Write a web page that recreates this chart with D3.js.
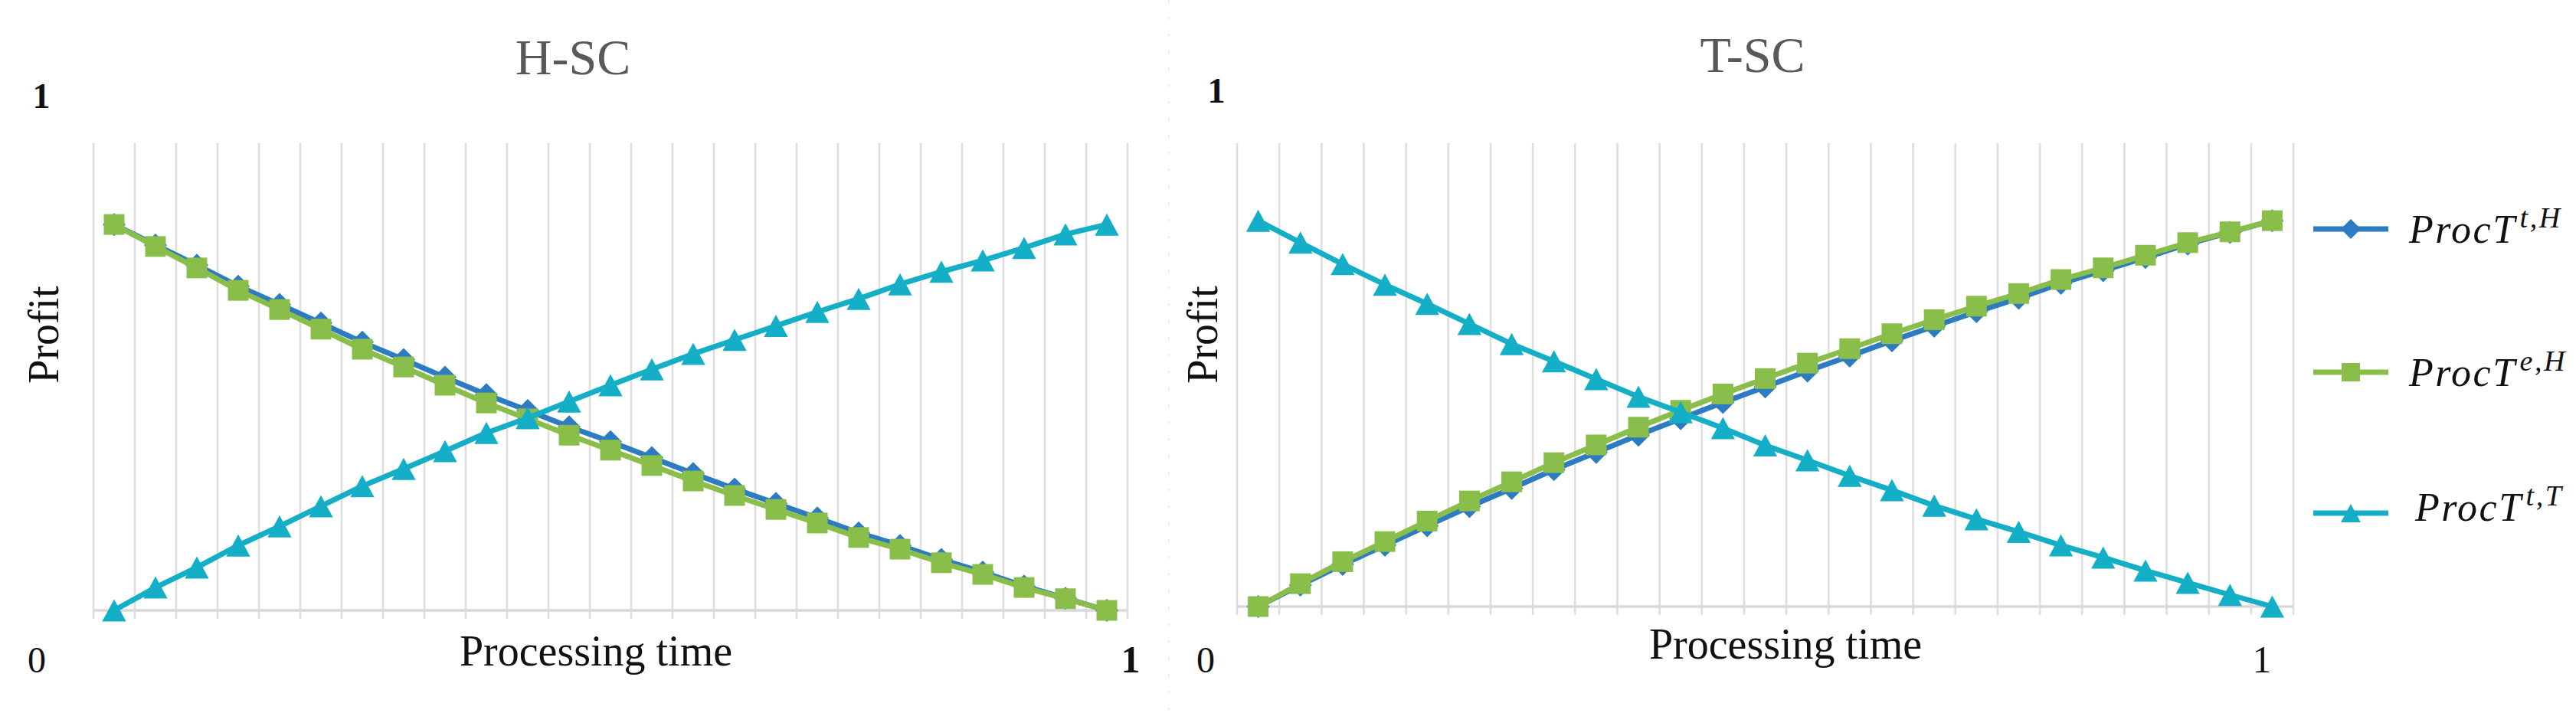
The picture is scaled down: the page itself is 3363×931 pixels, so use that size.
<!DOCTYPE html>
<html>
<head>
<meta charset="utf-8">
<script src="https://cdn.jsdelivr.net/npm/d3@7"></script>
<style>
  html, body { margin: 0; padding: 0; background: #ffffff; }
  svg { display: block; }
</style>
</head>
<body>
<svg id="chart" width="3363" height="931"></svg>
<script>
// ---------------- DATA ----------------
const categories = [1, 2, 3, 4, 5, 6, 7, 8, 9, 10, 11, 12, 13, 14, 15, 16, 17, 18, 19, 20, 21, 22, 23, 24, 25];

// H-SC panel
const hscProcTtH = [0.826, 0.782, 0.739, 0.694, 0.655, 0.615, 0.574, 0.537, 0.499, 0.462, 0.428, 0.393, 0.361, 0.327, 0.293, 0.260, 0.229, 0.198, 0.166, 0.139, 0.109, 0.082, 0.052, 0.026, 0];
const hscProcTeH = [0.826, 0.779, 0.733, 0.685, 0.644, 0.602, 0.559, 0.521, 0.482, 0.444, 0.410, 0.375, 0.343, 0.310, 0.277, 0.246, 0.216, 0.187, 0.156, 0.131, 0.102, 0.077, 0.049, 0.025, 0];
const hscProcTtT = [0, 0.049, 0.092, 0.139, 0.180, 0.223, 0.266, 0.303, 0.341, 0.380, 0.412, 0.447, 0.482, 0.516, 0.549, 0.579, 0.609, 0.639, 0.667, 0.698, 0.725, 0.749, 0.776, 0.805, 0.826];

// T-SC panel
const tscProcTtH = [0, 0.046, 0.090, 0.131, 0.173, 0.214, 0.253, 0.293, 0.330, 0.367, 0.402, 0.437, 0.470, 0.504, 0.536, 0.569, 0.600, 0.631, 0.660, 0.692, 0.719, 0.747, 0.776, 0.801, 0.826];
const tscProcTeH = [0, 0.049, 0.096, 0.139, 0.183, 0.226, 0.267, 0.308, 0.346, 0.384, 0.420, 0.455, 0.488, 0.521, 0.552, 0.584, 0.614, 0.643, 0.670, 0.700, 0.725, 0.752, 0.779, 0.802, 0.826];
const tscProcTtT = [0.826, 0.779, 0.733, 0.689, 0.648, 0.605, 0.562, 0.525, 0.487, 0.449, 0.416, 0.382, 0.345, 0.313, 0.280, 0.249, 0.216, 0.187, 0.160, 0.131, 0.105, 0.077, 0.051, 0.025, 0];

const panelTitles = ["H-SC", "T-SC"];
const seriesNames = ["ProcT", "ProcT", "ProcT"];
const seriesSuperscripts = ["t,H", "e,H", "t,T"];
const yTickLabels = ["0", "1"];   // bottom / top of the Profit axis
const xTickLabels = ["0", "1"];   // start / end of the Processing time axis
const xAxisTitle = "Processing time";
const yAxisTitle = "Profit";

// ---------------- STYLE / LAYOUT ----------------
const colors = ["#2D7BC0", "#8ABE4B", "#14AFC7"];
const shapes = ["diamond", "square", "triangle"];
const serif = "'Liberation Serif', 'Times New Roman', serif";

const layout = [
  { x0: 122, x1: 1472, yBase: 797, top: 187, titleX: 748, titleY: 97,
    profitX: 76, profitY: 437, zeroX: 48, oneTopX: 54, oneTopY: 141, oneEndX: 1476, xTitleX: 778, xTitleY: 869 },
  { x0: 1615, x1: 2994, yBase: 792, top: 187, titleX: 2288, titleY: 94,
    profitX: 1589, profitY: 437, zeroX: 1574, oneTopX: 1588, oneTopY: 134, oneEndX: 2953, xTitleX: 2331, xTitleY: 860 }
];
const panelSeries = [
  [hscProcTtH, hscProcTeH, hscProcTtT],
  [tscProcTtH, tscProcTeH, tscProcTtT]
];

const svg = d3.select("#chart");
svg.append("rect").attr("width", 3363).attr("height", 931).attr("fill", "#ffffff");

// faint separator between panels
svg.append("line")
  .attr("x1", 1526).attr("x2", 1526).attr("y1", 0).attr("y2", 931)
  .attr("stroke", "#ececec").attr("stroke-width", 2).attr("stroke-dasharray", "3,19");

// custom marker symbols (Excel-like)
const markerTypes = {
  square: { draw(ctx, size) { const r = Math.sqrt(size) / 2; ctx.rect(-r, -r, 2 * r, 2 * r); } },
  diamond: { draw(ctx, size) { const r = Math.sqrt(size) / 2; ctx.moveTo(0, -r); ctx.lineTo(r, 0); ctx.lineTo(0, r); ctx.lineTo(-r, 0); ctx.closePath(); } },
  triangle: { draw(ctx, size) { const r = Math.sqrt(size) / 2; ctx.moveTo(0, -r); ctx.lineTo(r * 1.08, r); ctx.lineTo(-r * 1.08, r); ctx.closePath(); } }
};
const markerSizes = { square: 27 * 27, diamond: 30 * 30, triangle: 29 * 29 };

layout.forEach((L, p) => {
  const g = svg.append("g");

  const xBand = d3.scaleBand().domain(categories).range([L.x0, L.x1]).paddingInner(0).paddingOuter(0);
  const y = d3.scaleLinear().domain([0, 1]).range([L.yBase, L.yBase - 610]);
  const xc = d => xBand(d) + xBand.bandwidth() / 2;

  const boundaries = categories.map(c => xBand(c)).concat([L.x1]);
  g.append("g").selectAll("line").data(boundaries).join("line")
    .attr("x1", d => d).attr("x2", d => d)
    .attr("y1", L.top).attr("y2", L.yBase + 11)
    .attr("stroke", "#dedede").attr("stroke-width", 2.6);

  g.append("line")
    .attr("x1", L.x0).attr("x2", L.x1)
    .attr("y1", y(0)).attr("y2", y(0))
    .attr("stroke", "#d9d9d9").attr("stroke-width", 3.5);

  panelSeries[p].forEach((vals, s) => {
    const pts = categories.map((c, i) => [xc(c), y(vals[i])]);
    g.append("path")
      .attr("d", d3.line()(pts))
      .attr("fill", "none")
      .attr("stroke", colors[s])
      .attr("stroke-width", 7)
      .attr("stroke-linejoin", "round")
      .attr("stroke-linecap", "round");
    g.append("g").selectAll("path").data(pts).join("path")
      .attr("transform", d => `translate(${d[0]},${d[1]})`)
      .attr("d", d3.symbol().type(markerTypes[shapes[s]]).size(markerSizes[shapes[s]]))
      .attr("fill", colors[s]);
  });

  g.append("text")
    .attr("x", L.titleX).attr("y", L.titleY)
    .attr("text-anchor", "middle")
    .attr("font-family", serif).attr("font-size", 66)
    .attr("fill", "#595959")
    .text(panelTitles[p]);

  g.append("text")
    .attr("transform", `translate(${L.profitX},${L.profitY}) rotate(-90)`)
    .attr("text-anchor", "middle")
    .attr("font-family", serif).attr("font-size", 56)
    .attr("fill", "#111111")
    .text(yAxisTitle);

  g.append("text")
    .attr("x", L.xTitleX).attr("y", L.xTitleY)
    .attr("text-anchor", "middle")
    .attr("font-family", serif).attr("font-size", 56)
    .attr("fill", "#111111")
    .text(xAxisTitle);

  g.append("text")
    .attr("x", L.zeroX).attr("y", 878)
    .attr("text-anchor", "middle")
    .attr("font-family", serif).attr("font-size", 48)
    .attr("fill", "#111111")
    .text(yTickLabels[0]);
  g.append("text")
    .attr("x", L.oneTopX).attr("y", L.oneTopY)
    .attr("text-anchor", "middle")
    .attr("font-family", serif).attr("font-size", 46).attr("font-weight", "bold")
    .attr("fill", "#111111")
    .text(yTickLabels[1]);
  g.append("text")
    .attr("x", L.oneEndX).attr("y", 878)
    .attr("text-anchor", "middle")
    .attr("font-family", serif).attr("font-size", 50).attr("font-weight", p === 0 ? "bold" : "normal")
    .attr("fill", "#111111")
    .text(xTickLabels[1]);
});

// ---------------- LEGEND ----------------
const legendRows = [
  { y: 299, textY: 317, textX: 3145 },
  { y: 486, textY: 504, textX: 3145 },
  { y: 670, textY: 680, textX: 3153 }
];
const legend = svg.append("g");
legendRows.forEach((r, s) => {
  legend.append("line")
    .attr("x1", 3020).attr("x2", 3118).attr("y1", r.y).attr("y2", r.y)
    .attr("stroke", colors[s]).attr("stroke-width", 7);
  const mSize = { square: 24 * 24, diamond: 26 * 26, triangle: 24 * 24 }[shapes[s]];
  legend.append("path")
    .attr("transform", `translate(3069,${r.y})`)
    .attr("d", d3.symbol().type(markerTypes[shapes[s]]).size(mSize))
    .attr("fill", colors[s]);
  const t = legend.append("text")
    .attr("x", r.textX).attr("y", r.textY)
    .attr("font-family", serif).attr("font-style", "italic")
    .attr("font-size", 52).attr("letter-spacing", 2.5)
    .attr("fill", "#111111");
  t.append("tspan").text(seriesNames[s]);
  t.append("tspan")
    .attr("dy", -20).attr("dx", 4)
    .attr("font-size", 38)
    .text(seriesSuperscripts[s]);
});
</script>
</body>
</html>
